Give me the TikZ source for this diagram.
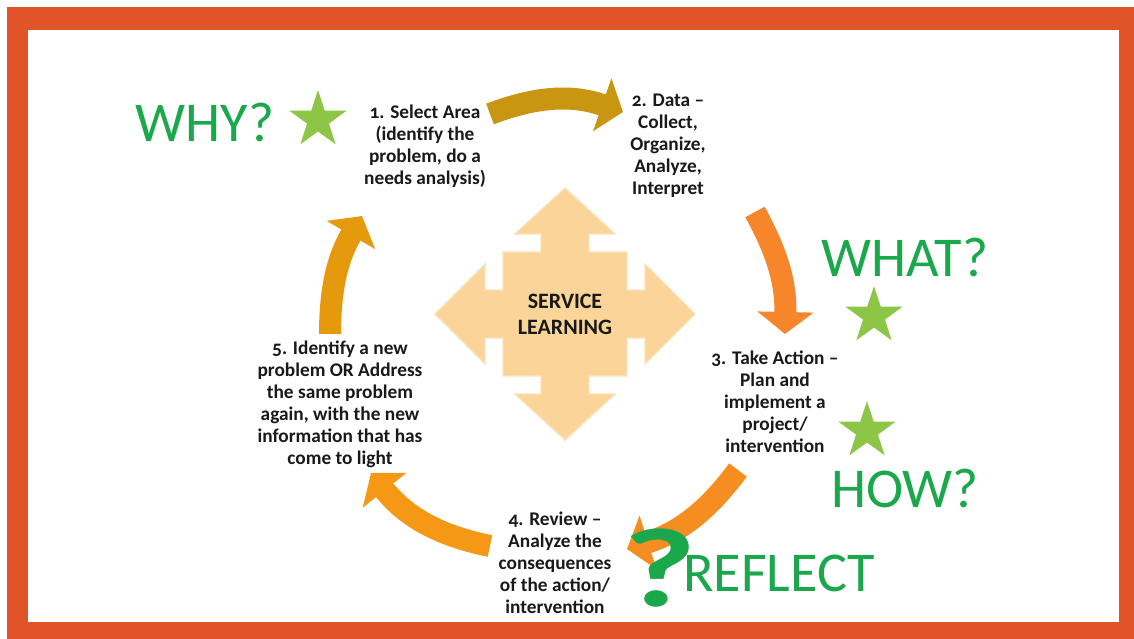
\documentclass[tikz,border=0pt]{standalone}
\usepackage{fontspec}
\setmainfont{Carlito}[Numbers=OldStyle]
\usetikzlibrary{arrows.meta,shapes.geometric}

\definecolor{frame}{RGB}{224,84,40}
\definecolor{hubfill}{RGB}{250,212,152}
\definecolor{hubedge}{RGB}{252,226,186}
\definecolor{goldA}{RGB}{200,150,16}
\definecolor{orangeB}{RGB}{247,134,42}
\definecolor{orangeC}{RGB}{246,141,32}
\definecolor{orangeD}{RGB}{244,152,22}
\definecolor{goldE}{RGB}{228,154,12}
\definecolor{askgreen}{RGB}{27,168,76}
\definecolor{leaf}{RGB}{141,198,70}

\tikzset{
  steptext/.style={font=\bfseries\fontsize{11}{12.5}\selectfont, align=center, text=black!90},
  asktext/.style={font=\fontsize{32}{34}\selectfont, text=askgreen},
  badge/.style={star, star points=5, star point ratio=2.6, fill=leaf, inner sep=0pt, minimum size=1.2cm},
  flow/.style={line width=0.44cm, -{Triangle[length=0.44cm,width=1.1cm]}}
}

\begin{document}
\begin{tikzpicture}[x=0.02cm,y=0.02cm]
\fill[white] (0,0) rectangle (1134,-639);
\fill[frame] (7,-7) rectangle (1134,-639);
\fill[white] (28,-30) rectangle (1119,-622);

% four-way arrow in the middle
\coordinate (hub) at (565,-314);
\begin{scope}[shift={(hub)}]
\filldraw[fill=hubfill, draw=hubedge, line width=0.8pt]
  (62,62) -- (24,62) -- (24,80) -- (50,80) -- (0,126) -- (-50,80) -- (-24,80) -- (-24,62)
  -- (-62,62) -- (-62,24) -- (-80,24) -- (-80,50) -- (-130,0) -- (-80,-50) -- (-80,-24) -- (-62,-24)
  -- (-62,-62) -- (-24,-62) -- (-24,-80) -- (-50,-80) -- (0,-126) -- (50,-80) -- (24,-80) -- (24,-62)
  -- (62,-62) -- (62,-24) -- (80,-24) -- (80,-50) -- (130,0) -- (80,50) -- (80,24) -- (62,24) -- cycle;
\end{scope}
\node[font=\bfseries\fontsize{12.5}{14.7}\selectfont, align=center, text=black!90] (hubtext) at (hub) {SERVICE\\LEARNING};

\node[steptext] (step1) at (425,-146) {1. Select Area\\(identify the\\problem, do a\\needs analysis)};
\node[steptext] (step2) at (668,-146) {2. Data –\\Collect,\\Organize,\\Analyze,\\Interpret};
\node[steptext] (step3) at (775,-402) {3. Take Action –\\Plan and\\implement a\\project/\\intervention};
\node[steptext] (step4) at (555,-563) {4. Review –\\Analyze the\\consequences\\of the action/\\intervention};
\node[steptext] (step5) at (340,-404) {5. Identify a new\\problem OR Address\\the same problem\\again, with the new\\information that has\\come to light};

% cycle arrows
\coordinate (a1s) at (490,-114); \coordinate (a1e) at (623,-112);
\coordinate (a2s) at (755,-212); \coordinate (a2e) at (785,-334);
\coordinate (a3s) at (738,-470); \coordinate (a3e) at (627,-549);
\coordinate (a4s) at (490,-546); \coordinate (a4e) at (371,-473);
\coordinate (a5s) at (330,-334); \coordinate (a5e) at (362,-216);
\draw[flow, draw=goldA, fill=goldA] (a1s) to[bend left=20] (a1e);
\draw[flow, draw=orangeB, fill=orangeB] (a2s) to[bend left=15] (a2e);
\draw[flow, draw=orangeC, fill=orangeC] (a3s) to[bend left=18] (a3e);
\draw[flow, draw=orangeD, fill=orangeD] (a4s) to[bend left=20] (a4e);
\draw[flow, draw=goldE, fill=goldE] (a5s) to[bend left=15] (a5e);

\node[asktext] (why) at (205,-122) {WHY?};
\node[badge] (whystar) at (318,-120) {};
\node[asktext] (what) at (905,-257) {WHAT?};
\node[badge] (whatstar) at (874,-316) {};
\node[badge] (howstar) at (867,-431) {};
\node[asktext] (how) at (905,-488) {HOW?};
\node[font=\bfseries\fontsize{64}{66}\selectfont, text=askgreen] (qmark) at (660,-568) {\scalebox{1.4}[1]{?}};
\node[asktext] (reflect) at (779,-573) {REFLECT};
\end{tikzpicture}
\end{document}
